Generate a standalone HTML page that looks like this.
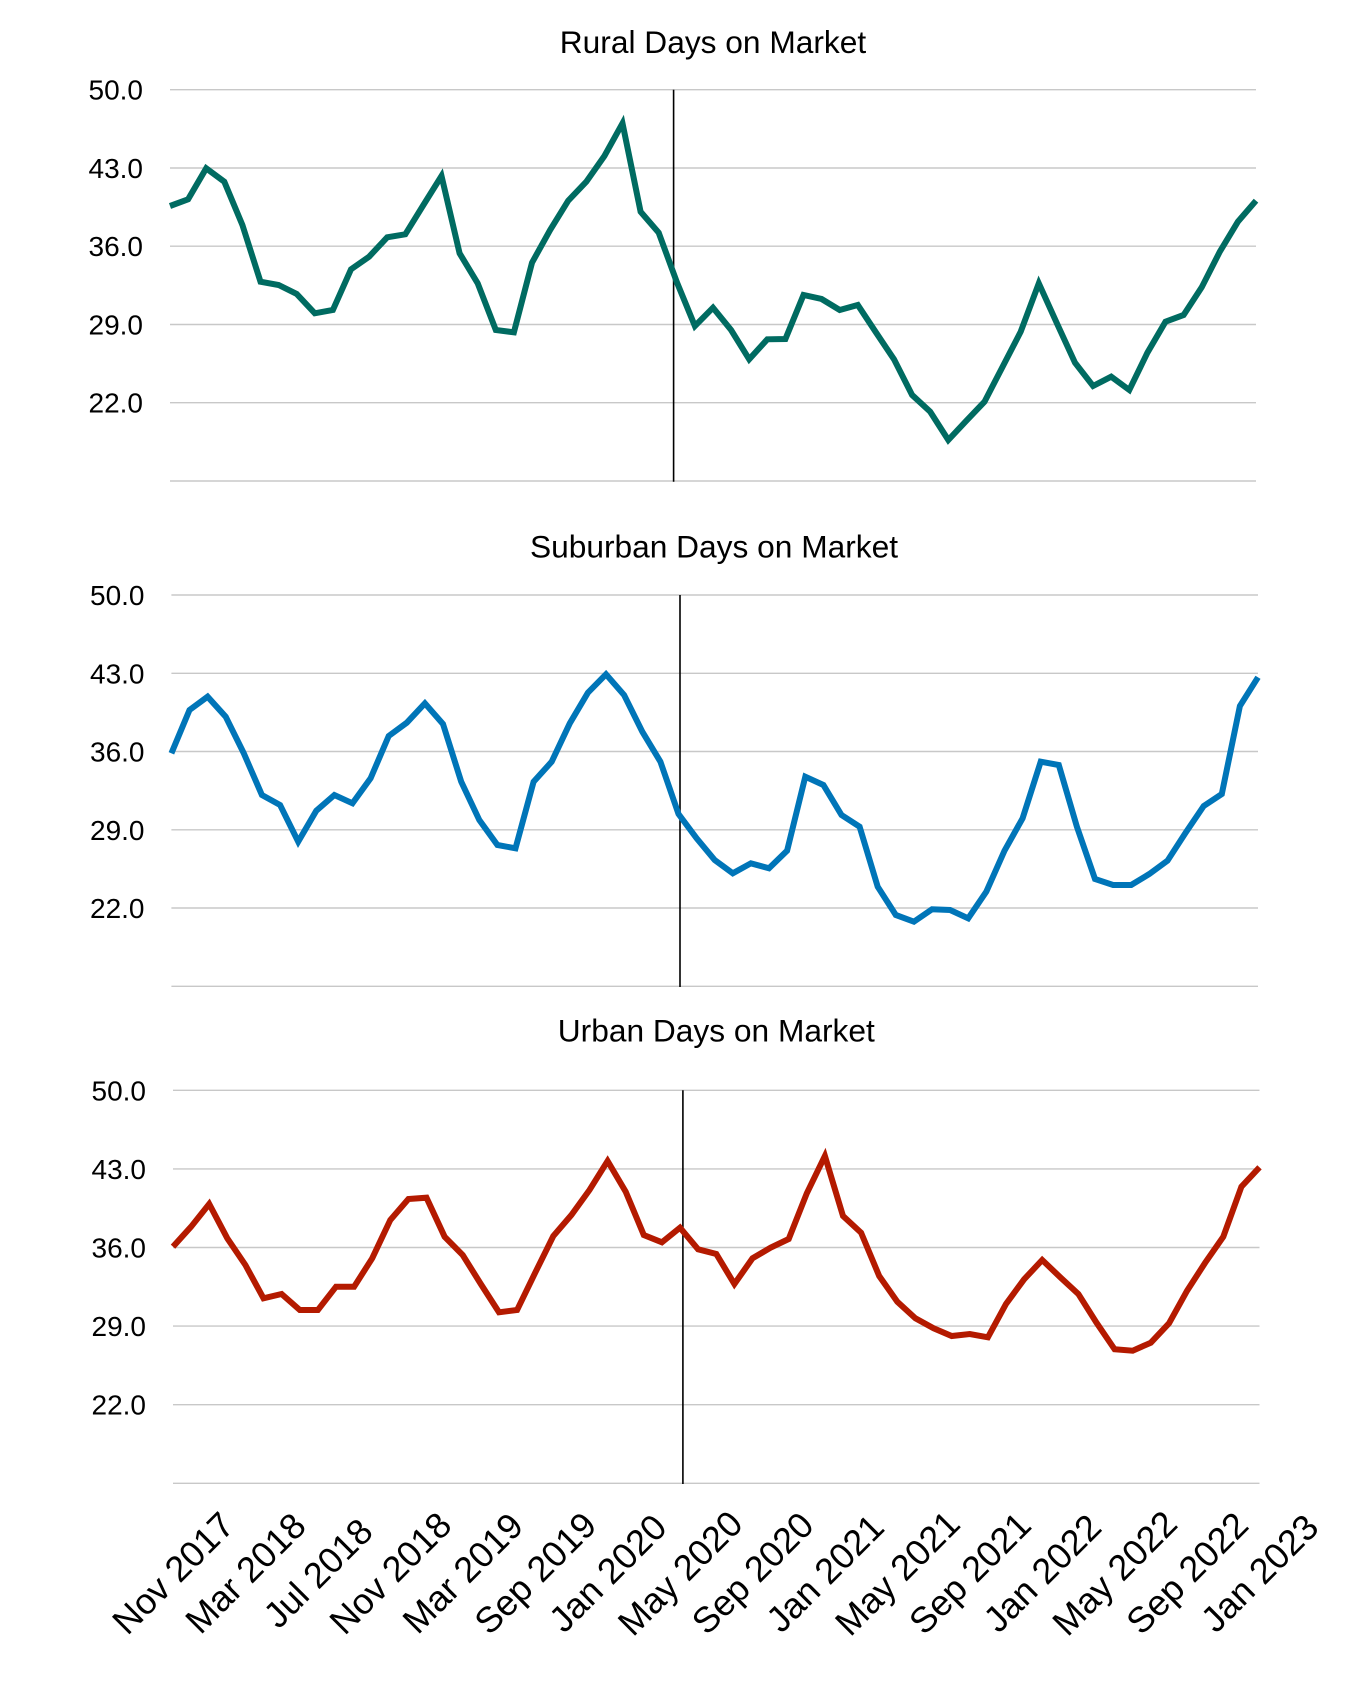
<!DOCTYPE html>
<html>
<head>
<meta charset="utf-8">
<style>
html,body{margin:0;padding:0;background:#fff;}
svg{display:block;}
text{font-family:"Liberation Sans",Arial,Helvetica,sans-serif;fill:#000;}
.t{font-size:31.7px;}
.y{font-size:28px;}
.x{font-size:36px;}
.g{stroke:#c8c8c8;stroke-width:1.4;fill:none;}
.v{stroke:#000;stroke-width:1.6;}
.s{fill:none;stroke-width:6;stroke-linejoin:miter;stroke-miterlimit:10;stroke-linecap:butt;}
</style>
</head>
<body>
<svg id="c" width="1350" height="1692" viewBox="0 0 1350 1692" xmlns="http://www.w3.org/2000/svg">
<g id="chart"></g>
</svg>
<script>
(function(){
var NS="http://www.w3.org/2000/svg";
var root=document.getElementById("chart");
function el(tag,attrs,txt){var e=document.createElementNS(NS,tag);for(var k in attrs)e.setAttribute(k,attrs[k]);if(txt!==undefined)e.textContent=txt;root.appendChild(e);return e;}
var charts=[
 {title:"Rural Days on Market",tx:713,ty:53,left:170,right:1256,top:89.7,bottom:481,lab:143,vx:673.6,color:"#006b61",
  ys:[206,199.3,168.3,181.7,225,281.7,285,294,313.3,310,269.3,256.7,237.3,234.3,205,176,253.3,283.3,330,332.3,262.7,230,200.7,181.7,156,123.3,211.7,232.7,282,326,307.7,330,359.3,339.3,339,295,299,310,305,332.3,359.3,395,411.7,440,420.7,401.7,366.7,331.7,283.3,323.3,362.7,386,376.7,390,352.7,321.7,315,287.3,251.7,221.7,200.7]},
 {title:"Suburban Days on Market",tx:714,ty:557.5,left:171.4,right:1258,top:595,bottom:986.3,lab:144.5,vx:680,color:"#0075b8",
  ys:[753.3,710,696.7,716.7,753.3,795,805,841.7,810.7,795,803.3,778.3,736,722.7,703.3,724,781.7,820,845,848.3,781.7,761.7,723.3,692.7,674.3,695,731.7,761.7,814,838.3,860,873.3,863.3,868.3,850.7,776.7,785,815,826.7,886.7,915,921.7,909.3,910,918.3,891.7,850.7,818.3,761.7,765,826.7,879,885,885,874,860.7,832.7,806,794,706,677.3]},
 {title:"Urban Days on Market",tx:716.3,ty:1041.5,left:173,right:1259.5,top:1090.3,bottom:1483.3,lab:146,vx:682.9,color:"#b41a00",
  ys:[1246.7,1226.7,1204,1238.3,1265,1298.3,1294,1310,1310,1286.7,1286.7,1258.3,1220,1199,1197.7,1236.7,1255,1284,1312.3,1310,1272.7,1236,1215,1190,1161,1191.7,1235,1242.3,1227.7,1249.3,1254,1284,1258.3,1247.7,1239,1193.3,1156,1216,1232.7,1276,1301.7,1318.3,1328.3,1336,1334,1337.3,1304,1279.3,1260,1277.3,1294,1322.7,1349.3,1350.7,1342.7,1323.3,1290.7,1262.7,1236.7,1186.7,1167.3]}
];
var labels=["50.0","43.0","36.0","29.0","22.0",""];
charts.forEach(function(c){
  el("text",{x:c.tx,y:c.ty,"text-anchor":"middle","class":"t"},c.title);
  var step=(c.bottom-c.top)/5;
  for(var i=0;i<6;i++){
    var y=c.top+i*step;
    el("line",{x1:c.left,x2:c.right,y1:y.toFixed(1),y2:y.toFixed(1),"class":"g"});
    if(labels[i])el("text",{x:c.lab,y:(y+10).toFixed(1),"text-anchor":"end","class":"y"},labels[i]);
  }
  var dx=(c.right-c.left)/60;
  var pts=c.ys.map(function(v,i){return (c.left+i*dx).toFixed(1)+","+v;}).join(" ");
  el("line",{x1:c.vx,x2:c.vx,y1:c.top,y2:c.bottom+0.7,"class":"v"});
  el("polyline",{points:pts,"class":"s",stroke:c.color});
});
var xl=["Nov 2017","Mar 2018","Jul 2018","Nov 2018","Mar 2019","Sep 2019","Jan 2020","May 2020","Sep 2020","Jan 2021","May 2021","Sep 2021","Jan 2022","May 2022","Sep 2022","Jan 2023"];
var u=charts[2],dxu=(u.right-u.left)/60;
xl.forEach(function(t,k){
  var x=u.left+k*4*dxu;
  el("text",{transform:"translate("+x.toFixed(1)+",1573) rotate(-45)",x:0,y:12.5,"text-anchor":"middle","class":"x"},t);
});
})();
</script>
</body>
</html>
